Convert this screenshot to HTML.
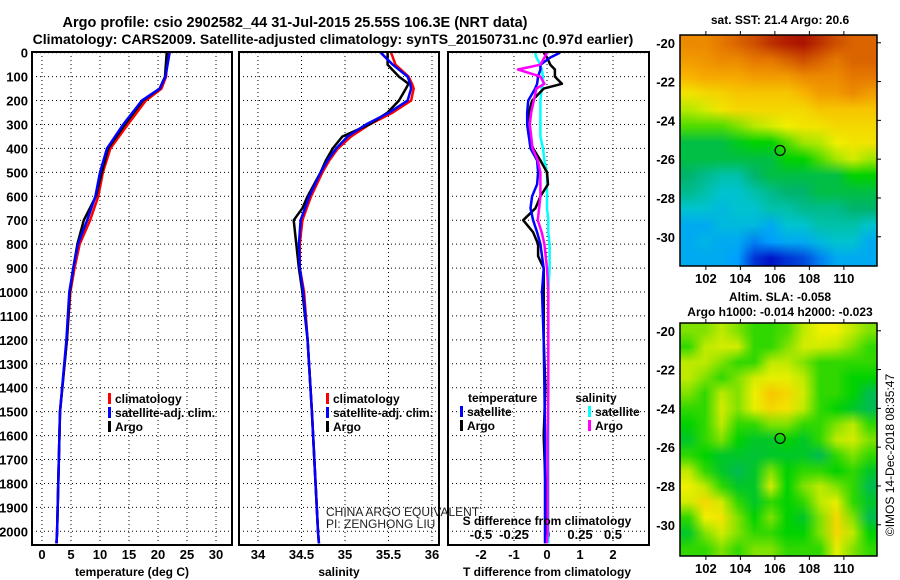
<!DOCTYPE html>
<html><head><meta charset="utf-8"><style>
body{margin:0;background:#fff;width:900px;height:580px;overflow:hidden;position:relative;font-family:"Liberation Sans",sans-serif}
svg text{font-family:"Liberation Sans",sans-serif}
canvas{position:absolute;image-rendering:auto}
</style></head><body>
<svg id="chart" width="900" height="580" style="position:absolute;left:0;top:0">
<g font-weight="bold" font-size="14" text-anchor="middle" fill="#000">
<text x="295" y="27" font-size="14.5">Argo profile: csio 2902582_44 31-Jul-2015 25.55S 106.3E (NRT data)</text>
<text x="333" y="44">Climatology: CARS2009. Satellite-adjusted climatology: synTS_20150731.nc (0.97d earlier)</text>
<text x="780" y="24" font-size="12">sat. SST: 21.4 Argo: 20.6</text>
<text x="780" y="301" font-size="12">Altim. SLA: -0.058</text>
<text x="780" y="316" font-size="12">Argo h1000: -0.014 h2000: -0.023</text>
</g>
<text transform="translate(894,455) rotate(-90)" font-size="12" text-anchor="middle">©IMOS 14-Dec-2018 08:35:47</text>
<g id="plots"></g>
</svg>
<canvas id="sst" width="12" height="14" style="left:680px;top:35px;width:197px;height:231px"></canvas>
<canvas id="sla" width="12" height="15" style="left:680px;top:323px;width:197px;height:233px"></canvas>
<svg id="over" width="900" height="580" style="position:absolute;left:0;top:0"></svg>
<script>
const tempDepths=[0,100,150,200,300,400,500,600,700,800,900,1000,1200,1500,2000,2050];
const tempArgo=[21.5,21.2,20.3,17.4,14.3,11.4,10.3,9.3,7.2,6.1,5.4,4.8,4.3,3.1,2.6,2.5];
const tempClim=[21.6,21.4,20.6,17.9,14.8,11.8,10.5,9.7,8.3,6.5,5.6,4.9,4.3,3.1,2.6,2.5];
const tempSat=[22.0,21.3,20.3,17.2,14.0,11.2,10.0,9.2,7.8,6.2,5.4,4.7,4.2,3.1,2.6,2.5];
const salDepths=[0,50,100,130,150,200,250,300,350,400,450,500,600,650,700,800,900,1000,1200,1500,2000,2050];
const salArgo=[35.49,35.49,35.62,35.73,35.70,35.62,35.49,35.28,34.97,34.86,34.78,34.72,34.57,34.51,34.41,34.44,34.47,34.51,34.57,34.62,34.69,34.70];
const salClim=[35.53,35.58,35.73,35.77,35.79,35.76,35.55,35.28,35.07,34.92,34.82,34.74,34.61,34.56,34.51,34.48,34.48,34.53,34.57,34.62,34.69,34.70];
const salSat=[35.41,35.55,35.72,35.75,35.76,35.72,35.51,35.24,35.03,34.90,34.80,34.72,34.59,34.54,34.49,34.47,34.48,34.52,34.57,34.62,34.69,34.70];
const diffDepths=[0,20,50,70,100,130,150,200,250,300,350,400,450,500,550,600,650,700,750,800,850,900,1000,1200,1400,1600,1800,2000,2050];
const tDiffArgo=[-0.1,0,0.1,0.24,0.24,0.45,-0.1,-0.45,-0.55,-0.6,-0.55,-0.42,-0.2,0,0.03,-0.2,-0.35,-0.72,-0.42,-0.27,-0.27,-0.1,-0.1,-0.1,-0.05,-0.1,-0.05,-0.05,-0.05];
const tDiffSat=[0.39,0.1,-0.2,-0.2,-0.27,-0.3,-0.36,-0.57,-0.6,-0.6,-0.55,-0.5,-0.3,-0.27,-0.3,-0.45,-0.5,-0.42,-0.3,-0.2,-0.15,-0.1,-0.15,-0.1,-0.08,-0.06,-0.06,-0.06,-0.06];
const sDiffArgo=[0,-0.02,-0.05,-0.22,-0.05,-0.02,-0.08,-0.1,-0.12,-0.13,-0.12,-0.11,-0.07,-0.05,-0.05,-0.05,-0.06,-0.07,-0.04,-0.02,-0.01,0,0.01,0.01,0.01,0.005,0.005,0.005,0];
const sDiffSat=[-0.09,-0.08,-0.05,-0.04,-0.03,-0.03,-0.04,-0.05,-0.05,-0.05,-0.05,-0.03,-0.02,0,0,0,0,0.01,0.01,0.02,0.02,0.02,0.01,0.01,0.01,0.01,0.01,0.01,0.01];
const depthTicks=[0,100,200,300,400,500,600,700,800,900,1000,1100,1200,1300,1400,1500,1600,1700,1800,1900,2000];
const tempTicks=[0,5,10,15,20,25,30];
const salTicks=[34,34.5,35,35.5,36];
const tDiffTicks=[-2,-1,0,1,2];
const sDiffTicks=[-0.5,-0.25,0,0.25,0.5];
const sstGrid=[
[.85,.85,.88,.9,.92,.95,.97,.98,.95,.92,.9,.9],
[.82,.83,.85,.85,.88,.88,.9,.92,.9,.88,.9,.9],
[.78,.8,.8,.8,.82,.82,.82,.85,.85,.85,.88,.88],
[.7,.72,.73,.75,.75,.75,.75,.78,.82,.82,.85,.82],
[.62,.65,.7,.72,.72,.72,.72,.72,.75,.75,.75,.75],
[.55,.55,.55,.58,.62,.65,.68,.7,.7,.72,.72,.72],
[.45,.45,.45,.48,.5,.5,.55,.6,.62,.68,.7,.7],
[.45,.45,.45,.45,.45,.45,.5,.5,.55,.6,.65,.6],
[.42,.4,.38,.38,.42,.45,.45,.45,.45,.45,.5,.5],
[.4,.38,.35,.35,.38,.4,.42,.42,.45,.45,.45,.45],
[.35,.35,.33,.35,.35,.38,.38,.4,.4,.4,.42,.42],
[.3,.3,.33,.33,.33,.3,.35,.35,.38,.38,.38,.35],
[.3,.32,.3,.3,.25,.28,.3,.3,.33,.35,.35,.3],
[.3,.3,.3,.28,.18,.15,.18,.2,.25,.3,.3,.3]];
const slaGrid=[
[.58,.58,.63,.58,.53,.53,.55,.63,.68,.68,.63,.58],
[.53,.63,.65,.65,.53,.53,.58,.65,.65,.63,.58,.53],
[.63,.63,.58,.53,.53,.63,.63,.58,.53,.53,.53,.53],
[.63,.58,.53,.58,.65,.67,.67,.63,.53,.53,.5,.5],
[.58,.53,.63,.58,.68,.75,.72,.65,.53,.53,.5,.44],
[.53,.53,.65,.58,.67,.72,.7,.63,.53,.5,.47,.44],
[.5,.53,.63,.53,.53,.58,.58,.53,.53,.58,.63,.53],
[.47,.53,.58,.5,.47,.47,.5,.47,.53,.63,.65,.58],
[.53,.5,.47,.47,.46,.47,.47,.47,.44,.53,.58,.53],
[.63,.53,.47,.44,.47,.58,.5,.53,.53,.5,.53,.47],
[.68,.63,.53,.47,.47,.65,.5,.58,.63,.58,.53,.44],
[.65,.72,.65,.53,.47,.53,.5,.53,.63,.67,.53,.47],
[.53,.68,.7,.58,.5,.58,.5,.47,.58,.72,.58,.44],
[.47,.58,.65,.58,.53,.53,.5,.5,.58,.72,.63,.5],
[.53,.53,.58,.53,.58,.58,.53,.53,.53,.67,.58,.53]];
const lonTicks=[102,104,106,108,110];
const latTicks=[-20,-22,-24,-26,-28,-30];
const argoLon=106.3, argoLat=-25.55;

const NS="http://www.w3.org/2000/svg";
const plots=document.getElementById('plots');
function mk(tag,attrs,parent){const e=document.createElementNS(NS,tag);for(const k in attrs)e.setAttribute(k,attrs[k]);(parent||plots).appendChild(e);return e;}
const yD=d=>52.7+d*0.2393;
const xT=t=>42+t*5.8;
const xS=s=>258+(s-34)*87;
const xDT=t=>547+t*33;
const xDS=s=>547+s*132;
const TOP=52,BOT=545;
const panels=[[32,232],[239,439],[448,649]];
panels.forEach((p,i)=>{
  depthTicks.forEach(d=>{
    const l=mk('line',{x1:p[0],x2:p[1],y1:yD(d),y2:yD(d),stroke:'#000','stroke-width':1,'stroke-dasharray':'1,3'});
    
    
  });
});
tempTicks.forEach(t=>{
  const l=mk('line',{x1:xT(t),x2:xT(t),y1:TOP,y2:BOT,stroke:'#000','stroke-dasharray':'1,3'});
  
  const tx=mk('text',{x:xT(t),y:559,'font-size':13,'font-weight':'bold','text-anchor':'middle'});tx.textContent=t;
  
});
salTicks.forEach(s=>{
  const l=mk('line',{x1:xS(s),x2:xS(s),y1:TOP,y2:BOT,stroke:'#000','stroke-dasharray':'1,3'});
  
  const tx=mk('text',{x:xS(s),y:559,'font-size':13,'font-weight':'bold','text-anchor':'middle'});tx.textContent=s;
  
});
tDiffTicks.forEach(t=>{
  const l=mk('line',{x1:xDT(t),x2:xDT(t),y1:TOP,y2:BOT,stroke:'#000','stroke-dasharray':'1,3'});
  
  const tx=mk('text',{x:xDT(t),y:559,'font-size':13,'font-weight':'bold','text-anchor':'middle'});tx.textContent=t;
  
});
sDiffTicks.forEach(s=>{
  const tx=mk('text',{x:xDS(s),y:539,'font-size':13,'font-weight':'bold','text-anchor':'middle'});tx.textContent=s;
  
});
depthTicks.forEach(d=>{
  const tx=mk('text',{x:28,y:yD(d)+5,'font-size':13,'font-weight':'bold','text-anchor':'end'});tx.textContent=d;
  
});
function series(xs,ds,fx,color,name){
  const pts=xs.map((v,i)=>fx(v).toFixed(1)+','+yD(ds[i]).toFixed(1)).join(' ');
  const p=mk('polyline',{points:pts,fill:'none',stroke:color,'stroke-width':2.5,'stroke-linejoin':'round'});
  
  
}
series(tempClim,tempDepths,xT,'#ff0000','temp-climatology-line');
series(tempArgo,tempDepths,xT,'#000000','temp-argo-line');
series(tempSat,tempDepths,xT,'#0000ff','temp-satellite-line');
series(salClim,salDepths,xS,'#ff0000','sal-climatology-line');
series(salArgo,salDepths,xS,'#000000','sal-argo-line');
series(salSat,salDepths,xS,'#0000ff','sal-satellite-line');
series(sDiffSat,diffDepths,xDS,'#00ffff','sdiff-satellite-line');
series(tDiffArgo,diffDepths,xDT,'#000000','tdiff-argo-line');
series(tDiffSat,diffDepths,xDT,'#0000ff','tdiff-satellite-line');
series(sDiffArgo,diffDepths,xDS,'#ff00ff','sdiff-argo-line');
panels.forEach(p=>{
  const r=mk('rect',{x:p[0],y:TOP,width:p[1]-p[0],height:BOT-TOP,fill:'none',stroke:'#000','stroke-width':2});
  
});
function txt(x,y,s,attrs,name){const t=mk('text',Object.assign({x:x,y:y,'font-size':12,'font-weight':'bold'},attrs||{}));t.textContent=s;return t;}
function swatch(x,y,c,name){const r=mk('rect',{x:x,y:y-10,width:3,height:11,fill:c});}
txt(132,576,'temperature (deg C)',{'text-anchor':'middle'},'temp-axis-title');
txt(339,576,'salinity',{'text-anchor':'middle'},'sal-axis-title');
txt(547,576,'T difference from climatology',{'text-anchor':'middle'},'tdiff-axis-title');
txt(547,525,'S difference from climatology',{'text-anchor':'middle'},'sdiff-axis-title');
[[108,115],[326,333]].forEach((p,i)=>{
  swatch(p[0],403,'#ff0000','legend-climatology-swatch');txt(p[1],403,'climatology',{},'legend-climatology');
  swatch(p[0],417,'#0000ff','legend-satellite-swatch');txt(p[1],417,'satellite-adj. clim.',{},'legend-satellite-adj');
  swatch(p[0],431,'#000000','legend-argo-swatch');txt(p[1],431,'Argo',{},'legend-argo');
});
txt(468,402,'temperature',{},'legend-temperature-heading');
txt(596,402,'salinity',{'text-anchor':'middle'},'legend-salinity-heading');
swatch(460,416,'#0000ff','legend-tsat-swatch');txt(467,416,'satellite',{},'legend-t-satellite');
swatch(460,430,'#000000','legend-targo-swatch');txt(467,430,'Argo',{},'legend-t-argo');
swatch(588,416,'#00ffff','legend-ssat-swatch');txt(595,416,'satellite',{},'legend-s-satellite');
swatch(588,430,'#ff00ff','legend-sargo-swatch');txt(595,430,'Argo',{},'legend-s-argo');
txt(326,516,'CHINA ARGO EQUIVALENT',{'font-weight':'normal',fill:'#222'},'pi-institution');
txt(326,528,'PI: ZENGHONG LIU',{'font-weight':'normal',fill:'#222'},'pi-name');

const stops=[[0,[0,0,140]],[.15,[0,20,200]],[.28,[0,160,255]],[.36,[0,200,200]],[.42,[0,180,110]],[.5,[0,210,0]],[.6,[160,230,0]],[.68,[240,240,0]],[.78,[250,180,0]],[.88,[230,120,0]],[1,[160,0,0]]];
function cmap(v){for(let i=1;i<stops.length;i++){if(v<=stops[i][0]){const a=stops[i-1],b=stops[i],f=(v-a[0])/(b[0]-a[0]);return a[1].map((c,k)=>Math.round(c+(b[1][k]-c)*f));}}return stops[stops.length-1][1];}
function drawGrid(id,grid){const c=document.getElementById(id),ctx=c.getContext('2d');grid.forEach((row,r)=>row.forEach((v,k)=>{const col=cmap(v);ctx.fillStyle='rgb('+col.join(',')+')';ctx.fillRect(k,r,1,1);}));}
drawGrid('sst',sstGrid);drawGrid('sla',slaGrid);
const over=document.getElementById('over');
function mo(tag,attrs){const e=document.createElementNS(NS,tag);for(const k in attrs)e.setAttribute(k,attrs[k]);over.appendChild(e);return e;}
const maps=[{top:35,bot:266},{top:323,bot:556}];
const xLon=l=>680+(l-100.5)*17.25;
maps.forEach((m,mi)=>{
  const yLat=la=>m.top+(-19.6-la)*19.4;
  const r=mo('rect',{x:680,y:m.top,width:197,height:m.bot-m.top,fill:'none',stroke:'#000','stroke-width':1.5});
  
  lonTicks.forEach(l=>{
    mo('line',{x1:xLon(l),x2:xLon(l),y1:m.bot,y2:m.bot+4,stroke:'#000'});
    mo('line',{x1:xLon(l),x2:xLon(l),y1:m.top,y2:m.top-4,stroke:'#000'});
    const t=mo('text',{x:xLon(l),y:m.bot+17,'font-size':13,'font-weight':'bold','text-anchor':'middle'});t.textContent=l;
    
  });
  latTicks.forEach(la=>{
    mo('line',{x1:877,x2:881,y1:yLat(la),y2:yLat(la),stroke:'#000'});
    const t=mo('text',{x:675,y:yLat(la)+5,'font-size':13,'font-weight':'bold','text-anchor':'end'});t.textContent=la;
    
  });
  const c=mo('circle',{cx:xLon(argoLon),cy:yLat(argoLat),r:5,fill:'none',stroke:'#000','stroke-width':1.2});
  
});
</script>
</body></html>
